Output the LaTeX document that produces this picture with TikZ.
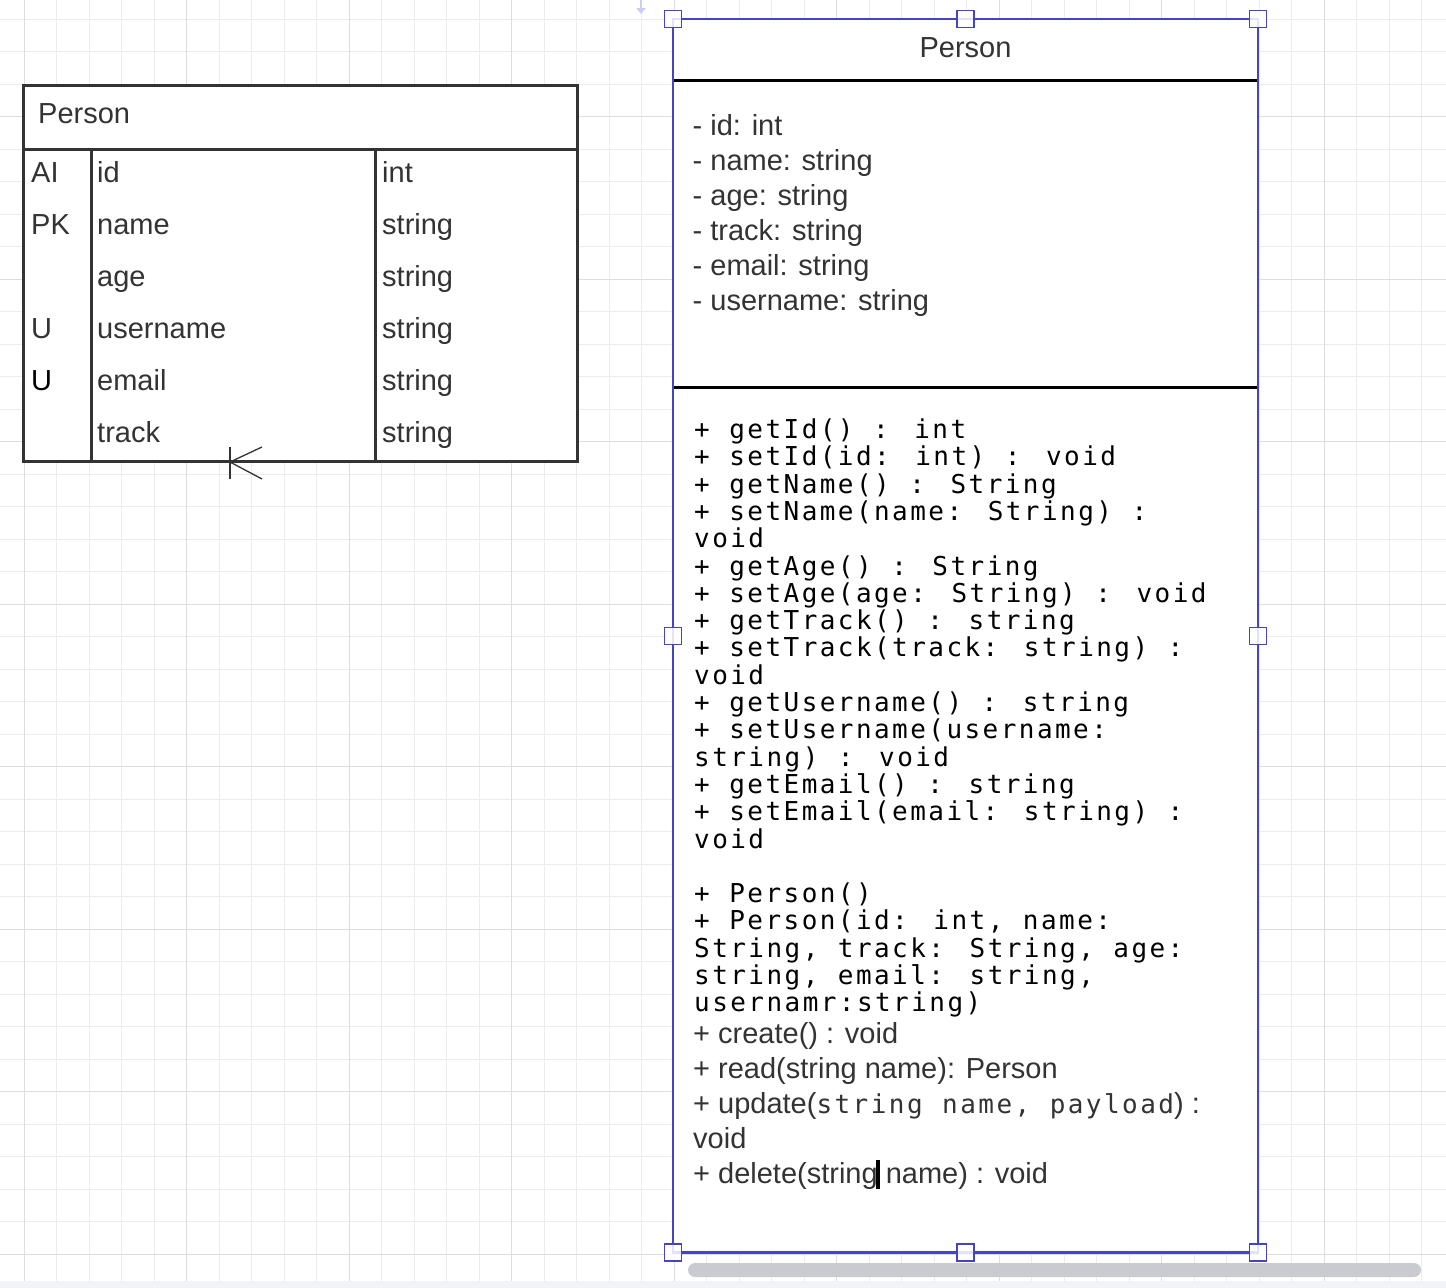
\documentclass[tikz,border=0pt]{standalone}
\usepackage{fontspec}
\setmainfont{Liberation Sans}
\newfontfamily\codefont[LetterSpace=9.4, WordSpace=1.08]{DejaVu Sans Mono}
\usetikzlibrary{arrows.meta}
\definecolor{gridmin}{RGB}{236,236,236}
\definecolor{gridmaj}{RGB}{221,221,221}
\definecolor{ink}{RGB}{51,51,51}
\definecolor{selblue}{RGB}{68,68,196}
\definecolor{scrollgrey}{RGB}{201,203,208}
\definecolor{stripgrey}{RGB}{241,243,246}
\definecolor{hintblue}{RGB}{204,204,248}
\tikzset{
  cell/.style={anchor=base west, inner sep=0pt, text=ink, font=\fontsize{29}{35}\selectfont},
  code/.style={anchor=base west, inner sep=0pt, align=left, font=\codefont\fontsize{26}{27.3}\selectfont},
  handle/.style={draw=selblue, fill=white, fill opacity=0.85, line width=1.5pt, minimum size=17pt, inner sep=0pt},
  tabline/.style={draw=ink, line width=3pt},
  bar/.style={draw=black, line width=3pt}
}
\newcommand{\cd}[1]{{\codefont\fontsize{26}{27.3}\selectfont #1}}

\begin{document}
\begin{tikzpicture}[x=1pt, y=-1pt]
		\useasboundingbox[fill=white] (0,0) rectangle (1446,1288);
		% grid
		\foreach \k in {0,...,43} \draw[gridmin, line width=1pt] ({24.3+32.5*\k},0) -- ({24.3+32.5*\k},1288);
		\foreach \k in {0,...,39} \draw[gridmin, line width=1pt] (0,{19+32.5*\k}) -- (1446,{19+32.5*\k});
		\foreach \k in {0,...,8} \draw[gridmaj, line width=1pt] ({24.3+162.5*\k},0) -- ({24.3+162.5*\k},1288);
		\foreach \k in {0,...,7} \draw[gridmaj, line width=1pt] (0,{116.5+162.5*\k}) -- (1446,{116.5+162.5*\k});

		% ER table
		\coordinate (TL) at (23,85);
		\coordinate (BR) at (577,461.5);
		\fill[white] (TL) rectangle (BR);
		\draw[tabline] (TL) rectangle (BR);
		\draw[tabline] (23,149) -- (577,149);
		\draw[tabline] (91,149) -- (91,461.5);
		\draw[tabline] (375,149) -- (375,461.5);
		\node[cell] (title) at (38,123) {Person};
		\node[cell] (keyAI) at (31,182) {AI};
		\node[cell] (keyPK) at (31,234) {PK};
		\node[cell] (keyU1) at (31,338) {U};
		\node[cell, text=black] (keyU2) at (31,390) {U};
		\foreach \k/\col/\typ in {0/id/int, 1/name/string, 2/age/string, 3/username/string, 4/email/string, 5/track/string}
		{
			\node[cell] (col\k) at (97,{182+52*\k}) {\col};
			\node[cell] (typ\k) at (382,{182+52*\k}) {\typ};
		}
		\coordinate (foot) at (230,462);
		\draw[ink, line width=1.3pt] (230,447) -- (230,479);
		\draw[ink, line width=1.3pt] (foot) -- ++(32,-15) (foot) -- ++(32,17) (foot) -- ++(32,0);

		% UML class
		\coordinate (UL) at (673,19);
		\coordinate (UR) at (1258,1252.5);
		\fill[white] (UL) rectangle (UR);
		\draw[bar] (673,80) -- (1258,80);
		\draw[bar] (673,387) -- (1258,387);
		\draw[selblue, line width=2.5pt] (UL) rectangle (UR);
		\node[cell, anchor=base] (name) at (965.5,57) {Person};
		\foreach \k/\att in {0/id: int, 1/name: string, 2/age: string, 3/track: string, 4/email: string, 5/username: string}
			\node[cell] (att\k) at (692.5,{135+35*\k}) {- \att};
		% base of a multi-line node is its last line
		\node[code] (ops) at (694,1011.8) {+ getId() : int\\
+ setId(id: int) : void\\
+ getName() : String\\
+ setName(name: String) :\\
void\\
+ getAge() : String\\
+ setAge(age: String) : void\\
+ getTrack() : string\\
+ setTrack(track: string) :\\
void\\
+ getUsername() : string\\
+ setUsername(username:\\
string) : void\\
+ getEmail() : string\\
+ setEmail(email: string) :\\
void\\[27.3pt]
+ Person()\\
+ Person(id: int, name:\\
String, track: String, age:\\
string, email: string,\\
usernamr:string)};
		\node[cell] (create) at (693,1043.5) {+ create() : void};
		\node[cell] (read) at (693,1078.5) {+ read(string name): Person};
		\node[cell] (update) at (693,1113.5) {+ update(\cd{string name, payload}) :};
		\node[cell] (upvoid) at (693,1148.5) {void};
		\node[cell] (delete) at (693,1183.5) {+ delete(string name) : void};
		\fill[black] (876,1160) rectangle (879.5,1189);

		% selection handles
		\foreach \hx/\hy [count=\n] in {673/19, 965.5/19, 1258/19, 673/636, 1258/636, 673/1252.5, 965.5/1252.5, 1258/1252.5}
			\node[handle] (h\n) at (\hx,\hy) {};

		% editor bits
		\draw[hintblue, line width=2pt, -{Triangle[width=9pt,length=6pt]}] (641,0) -- (641,14);
		\fill[scrollgrey, rounded corners=7pt] (688,1263) rectangle (1421,1277);
		\fill[stripgrey] (0,1281) rectangle (1446,1288);
\end{tikzpicture}
\end{document}
